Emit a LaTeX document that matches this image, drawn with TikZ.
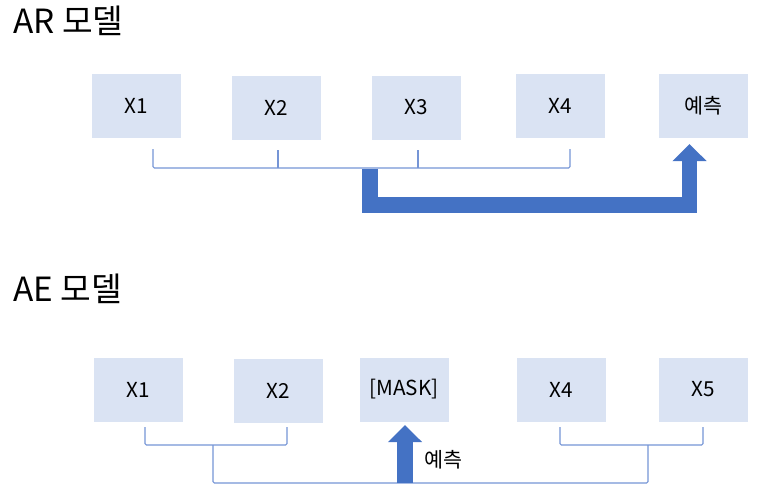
\documentclass[tikz,border=0pt]{standalone}
\usepackage{fontspec}
\setmainfont{Noto Sans CJK KR}
\usetikzlibrary{arrows.meta}
\definecolor{boxfill}{HTML}{DAE3F3}
\definecolor{arrowblue}{HTML}{4472C4}
\definecolor{bracketblue}{HTML}{7595D6}

\begin{document}
\begin{tikzpicture}[x=0.75pt,y=-0.75pt,
    token/.style={fill=boxfill, minimum width=66.75pt, minimum height=48pt, inner sep=0pt, font=\fontsize{15.5}{18}\selectfont},
    title/.style={anchor=base west, inner sep=0pt, font=\fontsize{25}{28}\selectfont},
    bracket/.style={draw=bracketblue, line width=0.8pt, rounded corners=1pt},
    bigarrow/.style={draw=arrowblue, line width=11.5pt, line join=miter, -{Triangle[width=24.75pt,length=12.75pt]}}]
            \useasboundingbox (0,0) rectangle (766,494);
            % AR model
            \node[title] (artitle) at (13,33) {AR 모델};
            \node[token] (ar1) at (136.5,106) {X1};
            \node[token] (ar2) at (276.5,107.5) {X2};
            \node[token] (ar3) at (416,107.5) {X3};
            \node[token] (ar4) at (560,106) {X4};
            \node[token] (arpred) at (703.5,106) {예측};
            % Bracket under the inputs
            \coordinate (arl) at (153,149);
            \coordinate (arr) at (570,149);
            \draw[bracket] (arl) |- (570,168) -- (arr);
            \draw[bracket] (278,150) -- (278,168);
            \draw[bracket] (418,150) -- (418,168);
            % Arrow to the prediction
            \coordinate (arstart) at (370,168.5);
            \coordinate (arbend) at (689.5,205);
            \coordinate (artip) at (689.5,144);
            \draw[bigarrow] (arstart) |- (arbend) -- (artip);
            % AE model
            \node[title] (aetitle) at (13,301) {AE 모델};
            \node[token] (ae1) at (138,389.5) {X1};
            \node[token] (ae2) at (278,390.5) {X2};
            \node[token] (aemask) at (404,389.5) {[MASK]};
            \node[token] (ae4) at (561,389.5) {X4};
            \node[token] (ae5) at (703.5,389.5) {X5};
            % Brackets under the context
            \draw[bracket] (145,427) |- (287,445) -- (287,427);
            \draw[bracket] (560,427) |- (703,445) -- (703,427);
            \draw[bracket] (213,445) |- (648,483) -- (648,445);
            % Arrow to the mask
            \coordinate (aestart) at (405,483);
            \draw[bigarrow, line width=12pt] (aestart) -- (405,425);
            \node[inner sep=0pt, font=\fontsize{15.5}{18}\selectfont] (aelabel) at (443.5,459.5) {예측};
\end{tikzpicture}
\end{document}
